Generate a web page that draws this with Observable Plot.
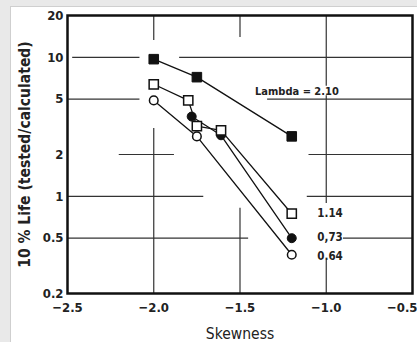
<!DOCTYPE html>
<html>
<head>
<meta charset="utf-8">
<script src="https://cdn.jsdelivr.net/npm/d3@7"></script>
<script src="https://cdn.jsdelivr.net/npm/@observablehq/plot@0.6"></script>
<style>
  html, body { margin: 0; padding: 0; background: #e9e9e9; width: 417px; height: 342px; overflow: hidden; }
  #card { position: absolute; left: 10px; top: 6px; width: 407px; height: 336px; background: #fff;
          border-left: 1px solid #cfcfcf; border-top: 1px solid #cfcfcf; }
  #card svg { overflow: visible; display: block; }
</style>
</head>
<body>
<div id="card"></div>
<script>
// Series: Lambda values, skewness (x) and 10% life ratio (y)
const lambda210_x = [-2.0, -1.75, -1.2];
const lambda210_y = [9.7, 7.2, 2.7];
const lambda114_x = [-2.0, -1.80, -1.75, -1.61, -1.2];
const lambda114_y = [6.4, 4.9, 3.2, 2.98, 0.75];
const lambda073_x = [-1.78, -1.61, -1.2];
const lambda073_y = [3.75, 2.75, 0.5];
const lambda064_x = [-2.0, -1.75, -1.2];
const lambda064_y = [4.9, 2.7, 0.38];

const xTicks = [-2.5, -2.0, -1.5, -1.0];
const xLastTick = [-0.5];
const yTicks = [0.2, 0.5, 1, 2, 5, 10, 20];
const xLabel = "Skewness";
const yLabel = "10 % Life (tested/calculated)";

// Annotation labels (text anchored in data coordinates)
const annText = ["Lambda = 2.10", "1.14", "0,73", "0.64"];
const annX = [-1.17, -1.052, -1.052, -1.052];
const annY = [5.7, 0.75, 0.51, 0.37];

// Broken grid segments of the original scan (data coordinates)
const hGridY  = [10, 10, 5, 5, 2, 2, 1, 1, 0.5, 0.5];
const hGridX1 = [-2.47, -1.85, -2.5, -1.34, -2.20, -1.10, -2.5, -1.11, -2.5, -0.90];
const hGridX2 = [-2.08, -0.5, -2.08, -0.5, -1.88, -0.5, -1.71, -0.5, -1.45, -0.5];
const vGridX  = [-2.0, -2.0, -1.5, -1.5, -1.0, -1.0, -1.0];
const vGridY1 = [13.2, 0.2, 13.9, 0.2, 6.2, 0.89, 0.2];
const vGridY2 = [20, 3.08, 20, 0.82, 20, 5.3, 0.345];

const mk = (xs, ys, name) => xs.map((x, i) => ({x, y: ys[i], s: name}));
const s064 = mk(lambda064_x, lambda064_y, "0.64");
const s073 = mk(lambda073_x, lambda073_y, "0.73");
const s114 = mk(lambda114_x, lambda114_y, "1.14");
const s210 = mk(lambda210_x, lambda210_y, "2.10");
const hGrid = hGridY.map((y, i) => ({y, x1: hGridX1[i], x2: hGridX2[i]}));
const vGrid = vGridX.map((x, i) => ({x, y1: vGridY1[i], y2: vGridY2[i]}));
const ann = annText.map((t, i) => ({t, x: annX[i], y: annY[i]}));

const font = "'DejaVu Sans Condensed', 'DejaVu Sans', sans-serif";
const ink = "#111";
const fmtX = d => d.toFixed(1).replace("-", "\u2212");

const chart = Plot.plot({
  width: 406,
  height: 335,
  marginLeft: 56,
  marginRight: 5,
  marginTop: 8,
  marginBottom: 49,
  style: { fontFamily: font, background: "transparent", color: ink, overflow: "visible" },
  x: { domain: [-2.5, -0.5] },
  y: { type: "log", domain: [0.2, 20] },
  marks: [
    Plot.ruleY(hGrid, { y: "y", x1: "x1", x2: "x2", stroke: "#333", strokeWidth: 1.2 }),
    Plot.ruleX(vGrid, { x: "x", y1: "y1", y2: "y2", stroke: "#333", strokeWidth: 1.2 }),
    Plot.frame({ stroke: ink, strokeWidth: 2.5 }),
    Plot.axisX({ ticks: xTicks, tickFormat: fmtX, tickSize: 0, tickPadding: 9,
                 fontSize: 13, fontWeight: "bold", fill: "#222", label: null }),
    Plot.axisX({ ticks: xLastTick, tickFormat: fmtX, tickSize: 0, tickPadding: 9, textAnchor: "end", dx: 5,
                 fontSize: 13, fontWeight: "bold", fill: "#222", label: null }),
    Plot.axisX({ ticks: [], label: xLabel, labelAnchor: "center", labelOffset: 45, labelArrow: "none",
                 fontSize: 15.5, fill: "#222" }),
    Plot.axisY({ ticks: yTicks, tickFormat: d => String(d), tickSize: 0, tickPadding: 4,
                 fontSize: 13, fontWeight: "bold", fill: "#222", label: null }),
    Plot.axisY({ ticks: [], label: yLabel, labelAnchor: "center", labelOffset: 49, labelArrow: "none",
                 fontSize: 15.5, fontWeight: "bold", fill: "#222" }),
    Plot.line(s064, { x: "x", y: "y", stroke: ink, strokeWidth: 1.3 }),
    Plot.line(s073, { x: "x", y: "y", stroke: ink, strokeWidth: 1.3 }),
    Plot.line(s114, { x: "x", y: "y", stroke: ink, strokeWidth: 1.3 }),
    Plot.line(s210, { x: "x", y: "y", stroke: ink, strokeWidth: 1.3 }),
    Plot.dot(s064, { x: "x", y: "y", r: 4.3, symbol: "circle", fill: "white", stroke: ink, strokeWidth: 1.5 }),
    Plot.dot(s073, { x: "x", y: "y", r: 4.5, symbol: "circle", fill: ink, stroke: ink, strokeWidth: 1 }),
    Plot.dot(s114, { x: "x", y: "y", r: 5.2, symbol: "square", fill: "white", stroke: ink, strokeWidth: 1.5 }),
    Plot.dot(s210, { x: "x", y: "y", r: 5.4, symbol: "square", fill: ink, stroke: ink, strokeWidth: 1 }),
    Plot.text(ann.slice(0, 1), { x: "x", y: "y", text: "t", textAnchor: "middle", fontSize: 11, fontWeight: "bold", fill: "#222" }),
    Plot.text(ann.slice(1), { x: "x", y: "y", text: "t", textAnchor: "start", fontSize: 11.5, fontWeight: "bold", fill: "#222" })
  ]
});
document.getElementById("card").appendChild(chart);
</script>
</body>
</html>
